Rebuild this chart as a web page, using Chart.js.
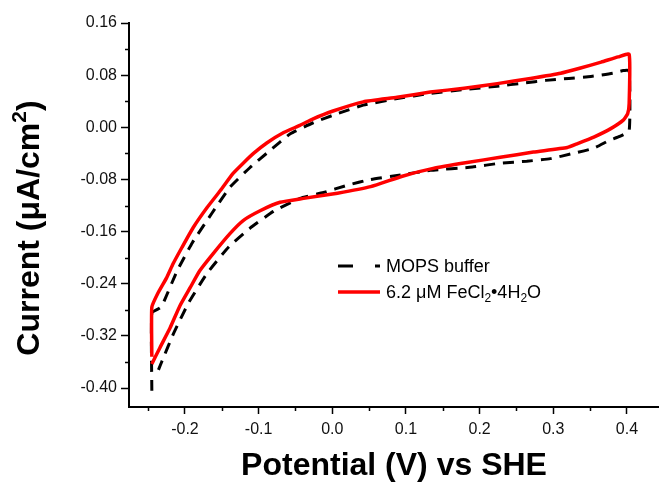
<!DOCTYPE html>
<html>
<head>
<meta charset="utf-8">
<script src="https://cdn.jsdelivr.net/npm/chart.js@4.4.1/dist/chart.umd.min.js"></script>
<style>
  html, body { margin: 0; padding: 0; background: #fff; }
  canvas { display: block; }
</style>
</head>
<body>
<canvas id="graph" width="659" height="484"></canvas>
<script>
// MOPS buffer scan: potential (V vs SHE) and current (uA/cm2)
const mopsV = [-0.245, -0.245, -0.234, -0.230, -0.211, -0.190, -0.163, -0.139, -0.112, -0.084,
    -0.057, -0.026, 0.007, 0.042, 0.088, 0.133, 0.179, 0.224, 0.260, 0.290,
    0.321, 0.351, 0.381, 0.395, 0.403, 0.403, 0.390, 0.376, 0.355, 0.327,
    0.296, 0.264, 0.228, 0.190, 0.133, 0.088, 0.052, 0.020, -0.012, -0.044,
    -0.080, -0.112, -0.141, -0.170, -0.195, -0.215, -0.231, -0.236];
const mopsI = [-0.404, -0.285, -0.277, -0.271, -0.221, -0.177, -0.131, -0.092, -0.062, -0.035,
    -0.010, 0.007, 0.021, 0.034, 0.044, 0.052, 0.058, 0.063, 0.068, 0.072,
    0.075, 0.078, 0.083, 0.087, 0.087, -0.005, -0.014, -0.020, -0.032, -0.040,
    -0.048, -0.052, -0.055, -0.061, -0.066, -0.074, -0.080, -0.089, -0.100, -0.109,
    -0.129, -0.155, -0.184, -0.224, -0.269, -0.315, -0.358, -0.372];

// 6.2 uM FeCl2 scan
const feV = [-0.245, -0.245, -0.237, -0.225, -0.216, -0.204, -0.189, -0.170, -0.152, -0.135,
    -0.121, -0.107, -0.089, -0.066, -0.044, -0.026, 0.001, 0.042, 0.088, 0.133,
    0.179, 0.224, 0.269, 0.310, 0.337, 0.365, 0.388, 0.403, 0.403, 0.401,
    0.395, 0.378, 0.355, 0.333, 0.319, 0.273, 0.228, 0.183, 0.137, 0.095,
    0.052, 0.007, -0.039, -0.071, -0.098, -0.121, -0.139, -0.162, -0.180, -0.193,
    -0.207, -0.220, -0.234, -0.245];
const feI = [-0.352, -0.276, -0.255, -0.231, -0.209, -0.184, -0.154, -0.123, -0.097, -0.071,
    -0.055, -0.040, -0.024, -0.008, 0.003, 0.013, 0.025, 0.039, 0.046, 0.054,
    0.060, 0.067, 0.075, 0.083, 0.091, 0.100, 0.108, 0.112, 0.037, 0.021,
    0.011, -0.002, -0.015, -0.025, -0.031, -0.038, -0.046, -0.054, -0.063, -0.075,
    -0.091, -0.101, -0.109, -0.115, -0.128, -0.143, -0.163, -0.194, -0.220, -0.246,
    -0.274, -0.307, -0.338, -0.363];

// axis ticks
const xTicks = [-0.2, -0.1, 0.0, 0.1, 0.2, 0.3, 0.4];
const xMinorTicks = [-0.25, -0.15, -0.05, 0.05, 0.15, 0.25, 0.35];
const yTicks = [-0.40, -0.32, -0.24, -0.16, -0.08, 0.00, 0.08, 0.16];
const yMinorTicks = [-0.36, -0.28, -0.20, -0.12, -0.04, 0.04, 0.12];

const FONT = 'Liberation Sans, Arial, sans-serif';

const toPoints = (xs, ys) => xs.map((x, i) => ({ x: x, y: ys[i] }));

// short ticks between the labelled ones, y-axis title and the legend box
const extras = {
    id: 'extras',
    afterDraw(chart) {
        const ctx = chart.ctx;
        const xs = chart.scales.x;
        const ys = chart.scales.y;
        const area = chart.chartArea;

        ctx.save();
        ctx.strokeStyle = '#000';
        ctx.lineWidth = 1.5;
        ctx.beginPath();
        xMinorTicks.forEach(v => {
            const px = Math.round(xs.getPixelForValue(v)) + 0.5;
            ctx.moveTo(px, area.bottom);
            ctx.lineTo(px, area.bottom + 4);
        });
        yMinorTicks.forEach(v => {
            const py = Math.round(ys.getPixelForValue(v)) + 0.5;
            ctx.moveTo(area.left, py);
            ctx.lineTo(area.left - 4, py);
        });
        ctx.stroke();

        // y title with superscript
        ctx.fillStyle = '#000';
        ctx.translate(30, 228);
        ctx.rotate(-Math.PI / 2);
        ctx.textBaseline = 'middle';
        const main = 'Current (\u03bcA/cm';
        ctx.font = 'bold 32px ' + FONT;
        const w1 = ctx.measureText(main).width;
        ctx.font = 'bold 21px ' + FONT;
        const w2 = ctx.measureText('2').width;
        ctx.font = 'bold 32px ' + FONT;
        const w3 = ctx.measureText(')').width;
        let x0 = -(w1 + w2 + w3) / 2;
        ctx.textAlign = 'left';
        ctx.fillText(main, x0, 0);
        ctx.font = 'bold 21px ' + FONT;
        ctx.fillText('2', x0 + w1, -10);
        ctx.font = 'bold 32px ' + FONT;
        ctx.fillText(')', x0 + w1 + w2, 0);
        ctx.restore();

        // legend
        ctx.save();
        ctx.lineWidth = 3;
        ctx.strokeStyle = '#000';
        ctx.setLineDash([15, 22]);
        ctx.beginPath();
        ctx.moveTo(338, 266);
        ctx.lineTo(380, 266);
        ctx.stroke();
        ctx.setLineDash([]);
        ctx.strokeStyle = '#ff0000';
        ctx.lineWidth = 3.5;
        ctx.beginPath();
        ctx.moveTo(338, 292);
        ctx.lineTo(380, 292);
        ctx.stroke();

        ctx.fillStyle = '#000';
        ctx.textBaseline = 'middle';
        ctx.textAlign = 'left';
        ctx.font = '18px ' + FONT;
        ctx.fillText('MOPS buffer', 386, 267);

        // 6.2 uM FeCl2.4H2O with subscripts
        const parts = [['6.2 \u03bcM FeCl', false], ['2', true], ['\u20224H', false], ['2', true], ['O', false]];
        let tx = 386;
        parts.forEach(([txt, sub]) => {
            ctx.font = (sub ? '12px ' : '18px ') + FONT;
            ctx.fillText(txt, tx, sub ? 299 : 293);
            tx += ctx.measureText(txt).width;
        });
        ctx.restore();
    }
};

const ctx = document.getElementById('graph').getContext('2d');
new Chart(ctx, {
    type: 'scatter',
    data: {
        datasets: [{
            label: 'MOPS buffer',
            data: toPoints(mopsV, mopsI),
            showLine: true,
            borderColor: '#000',
            borderWidth: 3,
            borderDash: [11, 8],
            pointRadius: 0,
            tension: 0.15,
            order: 2
        }, {
            label: '6.2 \u03bcM FeCl2\u20224H2O',
            data: toPoints(feV, feI),
            showLine: true,
            borderColor: '#ff0000',
            borderWidth: 3.5,
            pointRadius: 0,
            tension: 0.15,
            order: 1
        }]
    },
    options: {
        responsive: false,
        animation: false,
        layout: { padding: { top: 23, right: 0, bottom: 0, left: 0 } },
        plugins: {
            legend: { display: false },
            tooltip: { enabled: false }
        },
        scales: {
            x: {
                type: 'linear',
                min: -0.276,
                max: 0.4435,
                afterBuildTicks: scale => { scale.ticks = xTicks.map(v => ({ value: v })); },
                afterFit: scale => { scale.height = 77; },
                grid: { drawOnChartArea: false, drawTicks: true, tickLength: 7, tickWidth: 1.5, color: '#000' },
                border: { display: true, color: '#000', width: 2 },
                ticks: {
                    padding: 6,
                    color: '#111',
                    font: { family: FONT, size: 16 },
                    callback: v => v.toFixed(1)
                },
                title: {
                    display: true,
                    text: 'Potential (V) vs SHE',
                    color: '#000',
                    font: { family: FONT, size: 32, weight: 'bold', lineHeight: 1 },
                    padding: { top: 0, bottom: 2 }
                }
            },
            y: {
                type: 'linear',
                min: -0.429,
                max: 0.16,
                afterBuildTicks: scale => { scale.ticks = yTicks.map(v => ({ value: v })); },
                afterFit: scale => { scale.width = 129; },
                grid: { drawOnChartArea: false, drawTicks: true, tickLength: 8, tickWidth: 1.5, color: '#000' },
                border: { display: true, color: '#000', width: 2 },
                ticks: {
                    padding: 4,
                    color: '#111',
                    font: { family: FONT, size: 16 },
                    callback: v => v.toFixed(2)
                }
            }
        }
    },
    plugins: [extras]
});
</script>
</body>
</html>
